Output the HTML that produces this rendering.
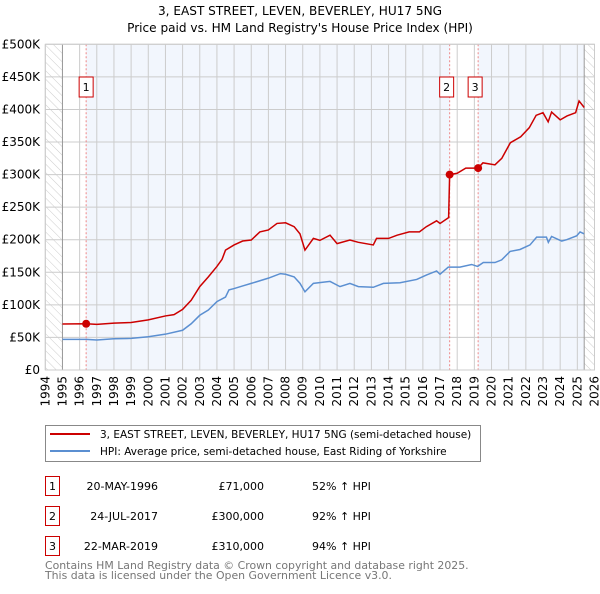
<!DOCTYPE html>
<html><head><meta charset="utf-8"><style>
body{margin:0;background:#fff;font-family:"DejaVu Sans","Liberation Sans",sans-serif;}
svg text{font-family:"DejaVu Sans","Liberation Sans",sans-serif;}
</style></head><body>
<svg id="chart" width="600" height="590" xmlns="http://www.w3.org/2000/svg">
<defs><pattern id="hatch" width="6" height="6" patternUnits="userSpaceOnUse" patternTransform="rotate(-45)"><line x1="0" y1="0" x2="0" y2="6" stroke="#ccc" stroke-width="1"/></pattern></defs>
<text x="300" y="15" font-size="12.1" text-anchor="middle">3, EAST STREET, LEVEN, BEVERLEY, HU17 5NG</text>
<text x="300" y="32" font-size="12.1" text-anchor="middle">Price paid vs. HM Land Registry's House Price Index (HPI)</text>
<g id="plot"></g>
<g id="legend">
<rect x="45.5" y="425.5" width="435" height="36" fill="#fff" stroke="#888"/>
<line x1="50" y1="434" x2="90" y2="434" stroke="#cc0000" stroke-width="2"/>
<text x="100" y="438" font-size="10.5">3, EAST STREET, LEVEN, BEVERLEY, HU17 5NG (semi-detached house)</text>
<line x1="50" y1="451" x2="90" y2="451" stroke="#5b8fd1" stroke-width="2"/>
<text x="100" y="455" font-size="10.5">HPI: Average price, semi-detached house, East Riding of Yorkshire</text>
</g>
<g id="table" font-size="11"></g>
<text x="45" y="569" font-size="10.9" fill="#777">Contains HM Land Registry data © Crown copyright and database right 2025.</text>
<text x="45" y="579" font-size="10.9" fill="#777">This data is licensed under the Open Government Licence v3.0.</text>
</svg>
<script>
const hpiYears=[1995,1996.4,1997,1998,1999,2000,2001,2002,2002.5,2003,2003.5,2004,2004.5,2004.7,2005,2005.5,2006,2007,2007.7,2008,2008.5,2008.84,2009.13,2009.62,2010.59,2011.17,2011.75,2012.24,2013.11,2013.7,2014.67,2015.64,2016.22,2016.8,2017.0,2017.48,2018.16,2018.84,2019.19,2019.52,2020.2,2020.59,2021.08,2021.66,2022.24,2022.63,2023.2,2023.31,2023.5,2024.09,2024.38,2024.96,2025.16,2025.39];
const hpiValues=[47,47,46,48,48.5,51,55,61,71,84,92,105,112,123,125,129,133,141,148,147,143,133,120,133,136,128,133,128,127,133,134,139,146,152,147,158,158,162,159,165,165,169,182,185,192,204,204,196,205,198,200,206,212,209];
const propYears=[1995,1996.38,1997,1998,1999,2000,2001,2001.5,2002,2002.5,2003,2003.5,2004,2004.3,2004.5,2005,2005.5,2006,2006.5,2007,2007.5,2008,2008.5,2008.84,2009.13,2009.62,2010.0,2010.59,2011.0,2011.75,2012.24,2013.11,2013.3,2014.0,2014.5,2015.2,2015.8,2016.2,2016.8,2017.0,2017.5,2017.56,2018.0,2018.5,2019.22,2019.5,2020.2,2020.6,2021.1,2021.7,2022.2,2022.6,2023.0,2023.3,2023.5,2024.0,2024.4,2024.9,2025.1,2025.4];
const propValues=[70.6,71,70,72,73,77,83,85,93,107,128,143,159,170,184,192,198,199.5,212,215,225,226,220,209,184,202,199,207,194,199.5,196,192,202,202,207,212,212,220,229,225,234,300,302,310,310,318,315,325,349,358,372,391,395,381,396,384,390,395,413,403];
const saleYears=[1996.38,2017.56,2019.22];
const saleValues=[71,300,310];
const saleLabels=["1","2","3"];
const saleDates=["20-MAY-1996","24-JUL-2017","22-MAR-2019"];
const salePrices=["£71,000","£300,000","£310,000"];
const saleHpi=["52% ↑ HPI","92% ↑ HPI","94% ↑ HPI"];
const yTicks=[0,50,100,150,200,250,300,350,400,450,500];
const yTickLabels=["£0","£50K","£100K","£150K","£200K","£250K","£300K","£350K","£400K","£450K","£500K"];
const xTicks=[1994,1995,1996,1997,1998,1999,2000,2001,2002,2003,2004,2005,2006,2007,2008,2009,2010,2011,2012,2013,2014,2015,2016,2017,2018,2019,2020,2021,2022,2023,2024,2025,2026];

const L=45.3,R=594.5,T=44.3,B=370;
const x=y=>L+(y-1994)/32*(R-L);
const yv=v=>B-v/500*(B-T);
const NS="http://www.w3.org/2000/svg";
function mk(tag,attrs,parent,text){const e=document.createElementNS(NS,tag);for(const k in attrs)e.setAttribute(k,attrs[k]);if(text!==undefined)e.textContent=text;parent.appendChild(e);return e;}
const g=document.getElementById('plot');
let e;
e=mk('rect',{x:x(saleYears[0]),y:T,width:x(saleYears[1])-x(saleYears[0]),height:B-T,fill:'#f2f6fd'},g);


e=mk('rect',{x:x(saleYears[2]),y:T,width:x(2025.4)-x(saleYears[2]),height:B-T,fill:'#f2f6fd'},g);


e=mk('rect',{x:L,y:T,width:x(1995)-L,height:B-T,fill:'url(#hatch)'},g);


e=mk('rect',{x:x(2025.4),y:T,width:R-x(2025.4),height:B-T,fill:'url(#hatch)'},g);


yTicks.forEach((t,i)=>{
 e=mk('line',{x1:L,x2:R,y1:yv(t),y2:yv(t),stroke:'#ccc','stroke-width':1},g);
 
 
 e=mk('text',{x:40,y:yv(t)+4,'font-size':12,'text-anchor':'end'},g,yTickLabels[i]);
 
 
});
xTicks.forEach(t=>{
 e=mk('line',{x1:x(t),x2:x(t),y1:T,y2:B,stroke:'#ccc','stroke-width':1},g);
 
 
 e=mk('text',{x:0,y:0,'font-size':12,'text-anchor':'end',transform:`translate(${x(t)+4},${B+6}) rotate(-90)`},g,String(t));
 
 
});
e=mk('line',{x1:x(1995),x2:x(1995),y1:T,y2:B,stroke:'#999','stroke-width':1},g);


e=mk('line',{x1:x(2025.4),x2:x(2025.4),y1:T,y2:B,stroke:'#999','stroke-width':1},g);


saleYears.forEach((s,i)=>{
 e=mk('line',{x1:x(s),x2:x(s),y1:T,y2:B,stroke:'#e88','stroke-width':1,'stroke-dasharray':'2,2'},g);
 
 
 e=mk('rect',{x:x(s)-7-(i==0?0:3),y:77,width:14,height:20,fill:'#fff',stroke:'#c00'},g);
 
 
 e=mk('text',{x:x(s)-(i==0?0:3),y:91,'font-size':11,'text-anchor':'middle'},g,saleLabels[i]);
 
 
});
e=mk('polyline',{points:hpiYears.map((yr,i)=>x(yr)+','+yv(hpiValues[i])).join(' '),fill:'none',stroke:'#5b8fd1','stroke-width':1.5},g);


e=mk('polyline',{points:propYears.map((yr,i)=>x(yr)+','+yv(propValues[i])).join(' '),fill:'none',stroke:'#cc0000','stroke-width':1.5},g);


saleYears.forEach((s,i)=>{
 e=mk('circle',{cx:x(s),cy:yv(saleValues[i]),r:4,fill:'#cc0000'},g);
 
 
});
e=mk('rect',{x:L,y:T,width:R-L,height:B-T,fill:'none',stroke:'#ccc'},g);


const tb=document.getElementById('table');
saleLabels.forEach((lab,i)=>{
 const y0=476+i*30;
 e=mk('rect',{x:45.5,y:y0+0.5,width:14,height:19,fill:'#fff',stroke:'#c00'},tb);
 
 
 e=mk('text',{x:52.5,y:y0+14,'text-anchor':'middle'},tb,lab);
 
 
 e=mk('text',{x:158,y:y0+14,'text-anchor':'end'},tb,saleDates[i]);
 
 
 e=mk('text',{x:264,y:y0+14,'text-anchor':'end'},tb,salePrices[i]);
 
 
 e=mk('text',{x:312,y:y0+14},tb,saleHpi[i]);
 
 
});
</script>
</body></html>
